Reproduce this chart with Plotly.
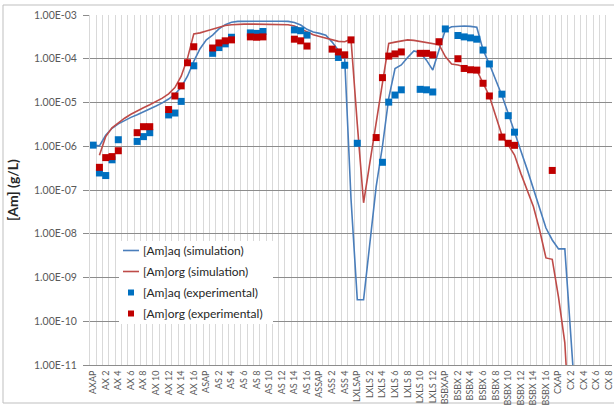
import plotly.graph_objects as go

categories = [
    "AXAP", "AX 1", "AX 2", "AX 3", "AX 4", "AX 5", "AX 6", "AX 7", "AX 8", "AX 9",
    "AX 10", "AX 11", "AX 12", "AX 13", "AX 14", "AX 15", "AX 16", "AX 17",
    "ASAP", "AS 1", "AS 2", "AS 3", "AS 4", "AS 5", "AS 6", "AS 7", "AS 8", "AS 9",
    "AS 10", "AS 11", "AS 12", "AS 13", "AS 14", "AS 15", "AS 16", "AS 17",
    "ASSAP", "ASS 1", "ASS 2", "ASS 3", "ASS 4", "ASS 5",
    "LXLSAP", "LXLS 1", "LXLS 2", "LXLS 3", "LXLS 4", "LXLS 5", "LXLS 6", "LXLS 7",
    "LXLS 8", "LXLS 9", "LXLS 10", "LXLS 11", "LXLS 12", "LXLS 13",
    "BSBXAP", "BSBX 1", "BSBX 2", "BSBX 3", "BSBX 4", "BSBX 5", "BSBX 6", "BSBX 7",
    "BSBX 8", "BSBX 9", "BSBX 10", "BSBX 11", "BSBX 12", "BSBX 13", "BSBX 14",
    "BSBX 15", "BSBX 16", "BSBX 17",
    "CXAP", "CX 1", "CX 2", "CX 3", "CX 4", "CX 5", "CX 6", "CX 7", "CX 8",
]

# simulated concentrations (g/L), one value per category
am_aq_sim = [
    1.07e-6, 1.02e-6, 1.78e-6, 2.57e-6, 3.24e-6, 3.89e-6, 4.57e-6, 5.25e-6, 6.03e-6, 7.08e-6,
    8.3e-6, 9.8e-6, 1.2e-5, 1.55e-5, 2.24e-5, 3.98e-5, 8.7e-5, 1.7e-4,
    2.7e-4, 3.47e-4, 4.8e-4, 6.0e-4, 6.8e-4, 7.15e-4, 7.2e-4, 7.2e-4, 7.2e-4, 7.2e-4,
    7.2e-4, 7.2e-4, 7.2e-4, 7.15e-4, 6.75e-4, 5.9e-4, 4.7e-4, 4.1e-4,
    3.8e-4, 3.47e-4, 2.4e-4, 1.51e-4, 1.0e-4, 6.3e-8,
    3.1e-10, 3.1e-10, 7.2e-9, 1.2e-7, 1.0e-6, 1.26e-5, 6.0e-5, 7.2e-5,
    1.07e-4, 1.51e-4, 1.38e-4, 9.3e-5, 5.5e-5, 1.58e-4,
    4.57e-4, 5.4e-4, 5.6e-4, 5.6e-4, 5.5e-4, 5.25e-4, 1.58e-4, 7.6e-5,
    3.3e-5, 1.45e-5, 5.6e-6, 2.2e-6, 7.9e-7, 3.0e-7, 1.07e-7,
    3.5e-8, 1.35e-8, 7.2e-9,
    4.5e-9, 4.5e-9, 5e-11, 3e-13, None, None, None, None, None,
]

am_org_sim = [
    None, 6.2e-7, 1.66e-6, 2.63e-6, 3.47e-6, 4.37e-6, 5.4e-6, 6.5e-6, 7.6e-6, 8.9e-6,
    1.05e-5, 1.26e-5, 1.58e-5, 2.2e-5, 4.0e-5, 1.02e-4, 3.7e-4, 3.9e-4,
    4.3e-4, 4.7e-4, 5.25e-4, 5.75e-4, 6.0e-4, 6.15e-4, 6.2e-4, 6.2e-4, 6.2e-4, 6.2e-4,
    6.2e-4, 6.2e-4, 6.15e-4, 6.0e-4, 5.6e-4, 4.8e-4, 4.1e-4, 3.55e-4,
    3.24e-4, 2.95e-4, 2.7e-4, 2.5e-4, 2.45e-4, 2.8e-4,
    3.2e-6, 5.1e-8, 4.2e-7, 3.4e-6, 2.75e-5, 2.24e-4, 2.4e-4, 2.57e-4,
    2.7e-4, 2.63e-4, 2.5e-4, 2.4e-4, 2.24e-4, 2.1e-4,
    1.12e-4, 7.6e-5, 7.2e-5, 6.6e-5, 6.0e-5, 5.5e-5, 2.75e-5, 1.41e-5,
    5.0e-6, 1.78e-6, 1.07e-6, 6.3e-7, 2.4e-7, 1.05e-7, 4.2e-8,
    1.2e-8, 2.8e-9, 2.6e-9,
    3.5e-10, 3.2e-11, 1e-13, None, None, None, None, None, None,
]

# experimental points
am_aq_exp_cat = [
    "AXAP", "AX 1", "AX 2", "AX 3", "AX 4", "AX 7", "AX 8", "AX 9", "AX 12", "AX 13",
    "AX 14", "AX 16", "AS 1", "AS 2", "AS 3", "AS 4", "AS 7", "AS 8", "AS 9",
    "AS 14", "AS 15", "AS 16", "ASS 3", "ASS 4", "LXLSAP", "LXLS 4", "LXLS 5",
    "LXLS 6", "LXLS 7", "LXLS 10", "LXLS 11", "LXLS 12", "BSBXAP", "BSBX 2",
    "BSBX 3", "BSBX 4", "BSBX 5", "BSBX 6", "BSBX 7", "BSBX 9", "BSBX 10", "BSBX 11",
]
am_aq_exp_val = [
    1.06e-6, 2.45e-7, 2.14e-7, 4.9e-7, 1.41e-6, 1.29e-6, 1.66e-6, 2.04e-6, 5.2e-6, 5.75e-6,
    1.06e-5, 6.9e-5, 1.33e-4, 1.8e-4, 2.19e-4, 3.1e-4, 3.9e-4, 3.8e-4, 4.2e-4,
    4.57e-4, 4.37e-4, 3.47e-4, 1.07e-4, 7.1e-5, 1.17e-6, 4.3e-7, 1.02e-5,
    1.48e-5, 1.95e-5, 2.0e-5, 1.95e-5, 1.74e-5, 4.8e-4, 3.4e-4,
    3.16e-4, 3.0e-4, 2.8e-4, 1.58e-4, 7.6e-5, 1.55e-5, 5.0e-6, 2.1e-6,
]

am_org_exp_cat = [
    "AX 1", "AX 2", "AX 3", "AX 4", "AX 7", "AX 8", "AX 9", "AX 12", "AX 13", "AX 14",
    "AX 15", "AX 16", "AS 1", "AS 2", "AS 3", "AS 4", "AS 7", "AS 8", "AS 9",
    "AS 14", "AS 15", "AS 16", "ASS 2", "ASS 3", "ASS 4", "ASS 5", "LXLS 3",
    "LXLS 4", "LXLS 5", "LXLS 6", "LXLS 7", "LXLS 10", "LXLS 11", "LXLS 12", "LXLS 13",
    "BSBX 2", "BSBX 3", "BSBX 4", "BSBX 5", "BSBX 6", "BSBX 7", "BSBX 9", "BSBX 10",
    "BSBX 11", "BSBX 17",
]
am_org_exp_val = [
    3.3e-7, 5.5e-7, 5.8e-7, 7.9e-7, 2.04e-6, 2.8e-6, 2.8e-6, 6.9e-6, 1.41e-5, 2.4e-5,
    8.1e-5, 1.88e-4, 1.76e-4, 2.3e-4, 2.57e-4, 2.7e-4, 3.16e-4, 3.1e-4, 3.16e-4,
    2.8e-4, 2.57e-4, 1.95e-4, 1.66e-4, 1.43e-4, 1.23e-4, 2.7e-4, 1.58e-6,
    3.7e-5, 1.15e-4, 1.29e-4, 1.43e-4, 1.33e-4, 1.33e-4, 1.23e-4, 2.45e-4,
    1.0e-4, 6.0e-5, 5.6e-5, 5.5e-5, 2.75e-5, 1.41e-5, 1.62e-6, 1.17e-6,
    1.05e-6, 2.8e-7,
]

y_tick_values = [1e-11, 1e-10, 1e-9, 1e-8, 1e-7, 1e-6, 1e-5, 1e-4, 1e-3]
y_tick_labels = ["1.00E-11", "1.00E-10", "1.00E-09", "1.00E-08", "1.00E-07",
                 "1.00E-06", "1.00E-05", "1.00E-04", "1.00E-03"]

x_tick_labels = [c if i % 2 == 0 else "" for i, c in enumerate(categories)]

series_names = ["[Am]aq (simulation)", "[Am]org (simulation)",
                "[Am]aq (experimental)", "[Am]org (experimental)"]
series_colors = ["#4A7EBB", "#BE4B48", "#0070C0", "#C00000"]

FONT = "Lato, Liberation Sans, sans-serif"

fig = go.Figure()
fig.add_trace(go.Scatter(x=categories, y=am_aq_sim, mode="lines", name=series_names[0],
                         line=dict(color=series_colors[0], width=1.6)))
fig.add_trace(go.Scatter(x=categories, y=am_org_sim, mode="lines", name=series_names[1],
                         line=dict(color=series_colors[1], width=1.6)))
fig.add_trace(go.Scatter(x=am_aq_exp_cat, y=am_aq_exp_val, mode="markers", name=series_names[2],
                         marker=dict(symbol="square", size=7, color=series_colors[2])))
fig.add_trace(go.Scatter(x=am_org_exp_cat, y=am_org_exp_val, mode="markers", name=series_names[3],
                         marker=dict(symbol="square", size=7, color=series_colors[3])))

# plot area: x 90..612 px, y 15..365 px
L, R, T, B = 90, 612, 15, 365
def px(x):
    return (x - L) / (R - L)
def py(y):
    return (B - y) / (B - T)

shapes = [dict(type="rect", xref="paper", yref="paper",
               x0=px(3), x1=px(620), y0=py(403), y1=py(5),
               line=dict(color="#BFBFBF", width=1), layer="below")]

# legend drawn inside the plot (white box, symbols and labels)
shapes.append(dict(type="rect", xref="paper", yref="paper",
                   x0=px(119), x1=px(273), y0=py(324), y1=py(241),
                   fillcolor="white", line=dict(width=0), layer="above"))
annotations = []
legend_y = [250.5, 271.5, 292.5, 313.5]
for k, (name, col, yy) in enumerate(zip(series_names, series_colors, legend_y)):
    if k < 2:
        shapes.append(dict(type="line", xref="paper", yref="paper",
                           x0=px(123), x1=px(139), y0=py(yy), y1=py(yy),
                           line=dict(color=col, width=1.6), layer="above"))
    else:
        shapes.append(dict(type="rect", xref="paper", yref="paper",
                           x0=px(128), x1=px(134), y0=py(yy + 3), y1=py(yy - 3),
                           fillcolor=col, line=dict(width=0), layer="above"))
    annotations.append(dict(xref="paper", yref="paper", x=px(140.5), y=py(yy),
                            xanchor="left", yanchor="middle", showarrow=False,
                            text=name, font=dict(family=FONT, size=12, color="#262626")))

fig.update_layout(
    width=614, height=407,
    margin=dict(l=L, r=614 - R, t=T, b=407 - B, autoexpand=False),
    paper_bgcolor="white", plot_bgcolor="white",
    font=dict(family=FONT, color="#404040"),
    showlegend=False,
    xaxis=dict(type="category", categoryorder="array", categoryarray=categories,
               range=[-0.5, len(categories) - 0.5], automargin=False,
               tickmode="array", tickvals=categories, ticktext=x_tick_labels,
               tickson="boundaries", ticks="", tickangle=-90, ticklabelstandoff=1,
               tickfont=dict(family=FONT, size=9, color="#595959"),
               showgrid=True, gridcolor="#D9D9D9", gridwidth=1,
               showline=True, linecolor="#8C8C8C", linewidth=1, zeroline=False),
    yaxis=dict(type="log", range=[-11, -3], automargin=False,
               tickmode="array", tickvals=y_tick_values, ticktext=y_tick_labels,
               ticks="outside", ticklen=6, tickcolor="#8C8C8C", ticklabelstandoff=4,
               tickfont=dict(family=FONT, size=10.5, color="#595959"),
               showgrid=True, gridcolor="#8C8C8C", gridwidth=1,
               showline=True, linecolor="#D9D9D9", zeroline=False,
               title=dict(text="<b>[Am] (g/L)</b>", standoff=12,
                          font=dict(family=FONT, size=14, color="#262626"))),
    shapes=shapes,
    annotations=annotations,
)

fig.write_html("out.html",
               config={"displayModeBar": False, "staticPlot": True},
               post_script="document.body.style.margin='0px';document.body.style.overflow='hidden';")
